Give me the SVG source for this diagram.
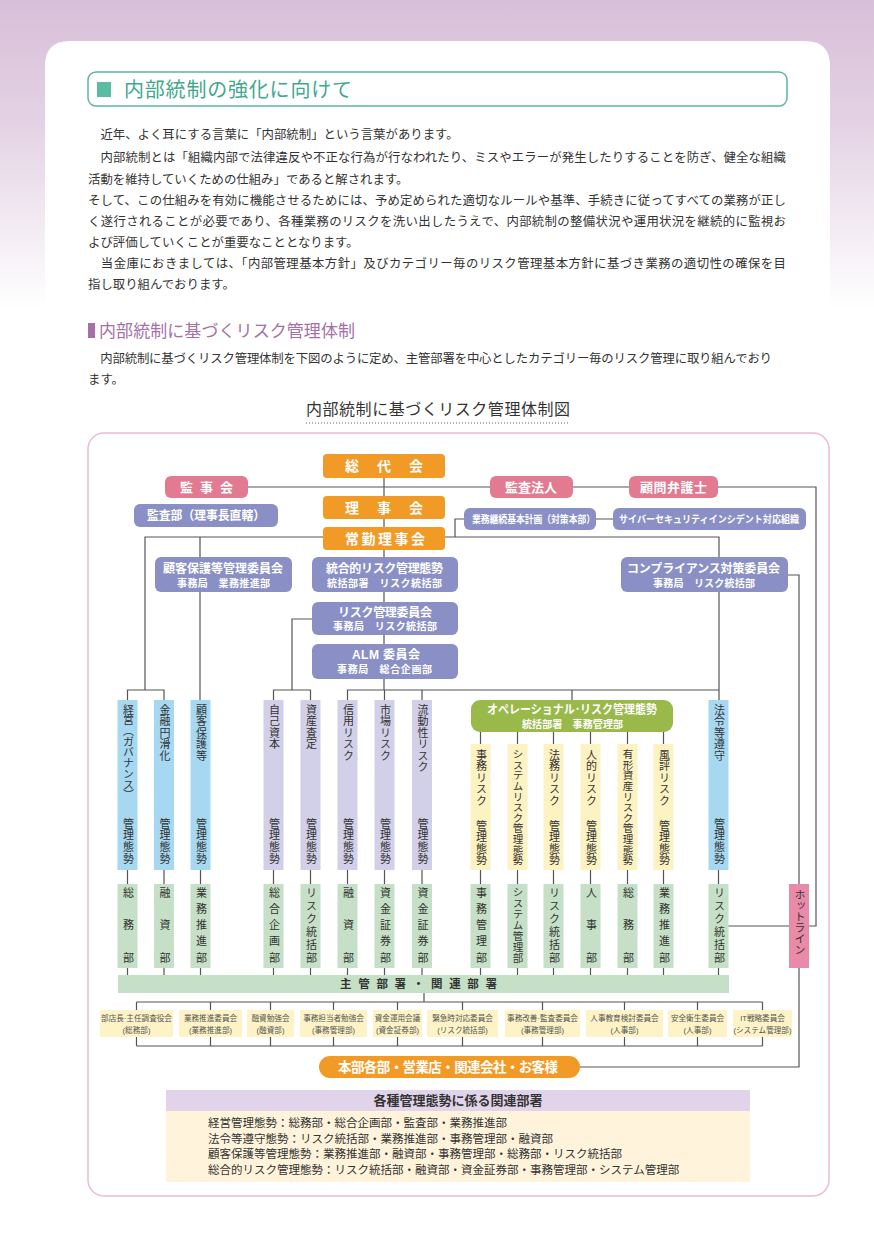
<svg xmlns="http://www.w3.org/2000/svg" width="874" height="1236" viewBox="0 0 874 1236">
<defs>
<linearGradient id="bg" x1="0" y1="0" x2="0" y2="1236" gradientUnits="userSpaceOnUse">
<stop offset="0" stop-color="#d8bfd9"/>
<stop offset="0.1" stop-color="#e4d2e4"/>
<stop offset="0.25" stop-color="#ffffff"/>
</linearGradient>
<style>
text{font-family:"Liberation Sans","Noto Sans CJK JP",sans-serif}
.body{font-size:12.4px;fill:#333}
.w{fill:#fff;font-weight:bold}
.dk{fill:#333}
.vt{writing-mode:vertical-rl;font-size:11px;fill:#333}
.ln{fill:none;stroke:#555;stroke-width:1.2}
.or{fill:#f29a26}
.pk{fill:#e27a91}
.bv{fill:#8a90c5}
.lb{fill:#a6d8f2}
.lv{fill:#d2cfe8}
.ye{fill:#fdf2c2}
.gr{fill:#c5e0c6}
.cm{fill:#fdf3c6}
.ct{font-size:7.6px;fill:#555}
</style>
</defs>
<rect x="0" y="0" width="874" height="1236" fill="url(#bg)"/>
<path d="M45,66 Q45,41 70,41 H805 Q830,41 830,66 V1236 H45 Z" fill="#fff"/>

<g id="header">
<rect x="88" y="72" width="699" height="34" rx="8" fill="#fff" stroke="#5bb89f" stroke-width="1.5"/>
<rect x="97" y="82" width="14" height="15" fill="#5bbba3"/>
<text x="124" y="97" style="font-size:20px;fill:#3fa88e" textLength="228">内部統制の強化に向けて</text>
</g>

<g id="intro">
<text class="body" x="88" y="139">　近年、よく耳にする言葉に「内部統制」という言葉があります。</text>
<text class="body" x="88" y="162" textLength="698">　内部統制とは「組織内部で法律違反や不正な行為が行なわれたり、ミスやエラーが発生したりすることを防ぎ、健全な組織</text>
<text class="body" x="88" y="184">活動を維持していくための仕組み」であると解されます。</text>
<text class="body" x="88" y="205" textLength="698">そして、この仕組みを有効に機能させるためには、予め定められた適切なルールや基準、手続きに従ってすべての業務が正し</text>
<text class="body" x="88" y="226" textLength="698">く遂行されることが必要であり、各種業務のリスクを洗い出したうえで、内部統制の整備状況や運用状況を継続的に監視お</text>
<text class="body" x="88" y="247">よび評価していくことが重要なこととなります。</text>
<text class="body" x="88" y="268" textLength="698">　当金庫におきましては、「内部管理基本方針」及びカテゴリー毎のリスク管理基本方針に基づき業務の適切性の確保を目</text>
<text class="body" x="88" y="289">指し取り組んでおります。</text>
</g>

<g id="section2">
<rect x="88" y="323" width="7" height="15" fill="#a56fa8"/>
<text x="99" y="337" style="font-size:17px;fill:#a56fa8" textLength="256">内部統制に基づくリスク管理体制</text>
<text class="body" x="88" y="363" textLength="684">　内部統制に基づくリスク管理体制を下図のように定め、主管部署を中心としたカテゴリー毎のリスク管理に取り組んでおり</text>
<text class="body" x="88" y="384">ます。</text>
<text x="306" y="415" style="font-size:16px;fill:#333" textLength="264">内部統制に基づくリスク管理体制図</text>
<line x1="306" y1="423" x2="570" y2="423" stroke="#666" stroke-width="1.2" stroke-dasharray="1,2"/>
</g>

<rect id="frame" x="88" y="433" width="741" height="763" rx="16" fill="none" stroke="#ecbccb" stroke-width="1.5"/>

<g id="connectors" class="ln">
<path d="M248,487 H490 M573,487 H629 M718,487 H816 V926 H809"/>
<path d="M384,478 V496 M384,519 V527 M384,550 V557 M384,592 V602 M384,635 V644 M384,679 V690"/>
<path d="M323,537 H145 V690 M200,537 V557 M127.5,700 V690 H164 V700"/>
<path d="M200,592 V700"/>
<path d="M445,537 H719 V557 M455,537 V519 H464 M596,519 H613"/>
<path d="M719,592 V700 M788,575 H799 V884 M799,968 V1067 H580"/>
<path d="M312,619 H292 V690 M273.5,700 V690 H310.5 V700"/>
<path d="M347.5,700 V690 H719 M384.5,690 V700 M422,690 V700 M572,690 V700"/>
<path d="M480.5,732 V744 M517.5,732 V744 M553.5,732 V744 M590.5,732 V744 M627.5,732 V744 M663.5,732 V744"/>
<path d="M127.5,870 V884 M164,870 V884 M200.5,870 V884 M273.5,870 V884 M310.5,870 V884 M347.5,870 V884 M384.5,870 V884 M422,870 V884 M480.5,870 V884 M517.5,870 V884 M553.5,870 V884 M590.5,870 V884 M627.5,870 V884 M663.5,870 V884 M718.5,870 V884"/>
<path d="M127.5,968 V975 M164,968 V975 M200.5,968 V975 M273.5,968 V975 M310.5,968 V975 M347.5,968 V975 M384.5,968 V975 M422,968 V975 M480.5,968 V975 M517.5,968 V975 M553.5,968 V975 M590.5,968 V975 M627.5,968 V975 M663.5,968 V975 M718.5,968 V975"/>
<path d="M728,926 H789"/>
<path d="M424,993 V1002 M136.5,1002 H762.5 M136.5,1046 H762.5"/>
<path d="M136.5,1002 V1010 M210.5,1002 V1010 M270.5,1002 V1010 M333.5,1002 V1010 M397.5,1002 V1010 M462.5,1002 V1010 M542.5,1002 V1010 M624.5,1002 V1010 M697.5,1002 V1010 M762.5,1002 V1010"/>
<path d="M136.5,1037 V1046 M210.5,1037 V1046 M270.5,1037 V1046 M333.5,1037 V1046 M397.5,1037 V1046 M462.5,1037 V1046 M542.5,1037 V1046 M624.5,1037 V1046 M697.5,1037 V1046 M762.5,1037 V1046"/>
</g>

<g id="sodaikai"><rect class="or" x="323" y="454" width="122" height="24" rx="4"/><text class="w" x="345" y="471" style="font-size:14px;letter-spacing:18px">総代会</text></g>
<g id="kanjikai"><rect class="pk" x="165" y="476" width="83" height="22" rx="6"/><text class="w" x="180" y="491.5" style="font-size:13px;letter-spacing:7px">監事会</text></g>
<g id="kansahojin"><rect class="pk" x="490" y="476" width="83" height="22" rx="6"/><text class="w" x="505" y="491.5" style="font-size:13px" textLength="52">監査法人</text></g>
<g id="komon"><rect class="pk" x="629" y="476" width="89" height="22" rx="6"/><text class="w" x="640" y="491.5" style="font-size:13px" textLength="67">顧問弁護士</text></g>
<g id="rijikai"><rect class="or" x="323" y="496" width="122" height="23" rx="4"/><text class="w" x="345" y="512.5" style="font-size:14px;letter-spacing:18px">理事会</text></g>
<g id="kansabu"><rect class="bv" x="134" y="504" width="144" height="23" rx="6"/><text class="w" x="147" y="520" style="font-size:12.5px" textLength="118" lengthAdjust="spacingAndGlyphs">監査部（理事長直轄）</text></g>
<g id="bcp"><rect class="bv" x="464" y="508" width="132" height="22" rx="6"/><text class="w" x="472" y="523" style="font-size:10.5px" textLength="123" lengthAdjust="spacingAndGlyphs">業務継続基本計画（対策本部）</text></g>
<g id="cyber"><rect class="bv" x="613" y="508" width="193" height="22" rx="6"/><text class="w" x="619" y="523" style="font-size:10px" textLength="180" lengthAdjust="spacingAndGlyphs">サイバーセキュリティインシデント対応組織</text></g>
<g id="jokin"><rect class="or" x="323" y="527" width="122" height="23" rx="4"/><text class="w" x="345" y="543.5" style="font-size:14px;letter-spacing:2.5px">常勤理事会</text></g>

<g id="kokyaku-iinkai"><rect class="bv" x="155" y="557" width="137" height="35" rx="6"/><text class="w" x="163" y="573.3" style="font-size:12px" textLength="120">顧客保護等管理委員会</text><text class="w" x="177" y="587.2" style="font-size:10px" textLength="93">事務局　業務推進部</text></g>
<g id="togoteki"><rect class="bv" x="312" y="557" width="146" height="35" rx="6"/><text class="w" x="326" y="573.3" style="font-size:12px" textLength="117">統合的リスク管理態勢</text><text class="w" x="327" y="587.2" style="font-size:10px" textLength="115">統括部署　リスク統括部</text></g>
<g id="compliance"><rect class="bv" x="621" y="557" width="167" height="35" rx="6"/><text class="w" x="627" y="573.3" style="font-size:12px" textLength="153">コンプライアンス対策委員会</text><text class="w" x="653" y="587.2" style="font-size:10px" textLength="102">事務局　リスク統括部</text></g>
<g id="risk-iinkai"><rect class="bv" x="312" y="602" width="146" height="33" rx="6"/><text class="w" x="338" y="616.8" style="font-size:12px" textLength="94">リスク管理委員会</text><text class="w" x="333" y="630.2" style="font-size:10px" textLength="104">事務局　リスク統括部</text></g>
<g id="alm"><rect class="bv" x="312" y="644" width="146" height="35" rx="6"/><text class="w" x="352" y="658.8" style="font-size:12px" textLength="68">ALM 委員会</text><text class="w" x="337" y="672.7" style="font-size:10px" textLength="95">事務局　総合企画部</text></g>
<g id="operational"><rect x="471" y="700" width="202" height="32" rx="9" fill="#9ab94b"/><text class="w" x="487" y="714.3" style="font-size:12px" textLength="170" lengthAdjust="spacingAndGlyphs">オペレーショナル･リスク管理態勢</text><text class="w" x="522" y="727.7" style="font-size:10px" textLength="101">統括部署　事務管理部</text></g>

<g id="col-keiei"><rect class="lb" x="117.5" y="700" width="20" height="170"/><text class="vt" x="127.5" y="704" style="letter-spacing:-0.3px">経営（ガバナンス）</text><text class="vt" x="127.5" y="818" style="letter-spacing:0.8px">管理態勢</text></g>
<g id="col-kinyu"><rect class="lb" x="154" y="700" width="20" height="170"/><text class="vt" x="164" y="704" style="letter-spacing:0.5px">金融円滑化</text><text class="vt" x="164" y="818" style="letter-spacing:0.8px">管理態勢</text></g>
<g id="col-kokyaku"><rect class="lb" x="190.5" y="700" width="20" height="170"/><text class="vt" x="200.5" y="704" style="letter-spacing:0.5px">顧客保護等</text><text class="vt" x="200.5" y="818" style="letter-spacing:0.8px">管理態勢</text></g>
<g id="col-jikoshihon"><rect class="lv" x="263.5" y="700" width="20" height="170"/><text class="vt" x="273.5" y="704" style="letter-spacing:0.5px">自己資本</text><text class="vt" x="273.5" y="818" style="letter-spacing:0.8px">管理態勢</text></g>
<g id="col-shisan"><rect class="lv" x="300.5" y="700" width="20" height="170"/><text class="vt" x="310.5" y="704" style="letter-spacing:0.5px">資産査定</text><text class="vt" x="310.5" y="818" style="letter-spacing:0.8px">管理態勢</text></g>
<g id="col-shinyo"><rect class="lv" x="337.5" y="700" width="20" height="170"/><text class="vt" x="347.5" y="704" style="letter-spacing:0.5px">信用リスク</text><text class="vt" x="347.5" y="818" style="letter-spacing:0.8px">管理態勢</text></g>
<g id="col-shijo"><rect class="lv" x="374.5" y="700" width="20" height="170"/><text class="vt" x="384.5" y="704" style="letter-spacing:0.5px">市場リスク</text><text class="vt" x="384.5" y="818" style="letter-spacing:0.8px">管理態勢</text></g>
<g id="col-ryudosei"><rect class="lv" x="412" y="700" width="20" height="170"/><text class="vt" x="422" y="704" style="letter-spacing:0.5px">流動性リスク</text><text class="vt" x="422" y="818" style="letter-spacing:0.8px">管理態勢</text></g>
<g id="col-jimu"><rect class="ye" x="470.5" y="744" width="20" height="126"/><text class="vt" x="480.5" y="749" style="letter-spacing:0.5px">事務リスク</text><text class="vt" x="480.5" y="820" style="letter-spacing:0.5px">管理態勢</text></g>
<g id="col-system"><rect class="ye" x="507.5" y="744" width="20" height="126"/><text class="vt" x="517.5" y="749" style="font-size:10.5px;letter-spacing:0.1px">システムリスク管理態勢</text></g>
<g id="col-homu"><rect class="ye" x="543.5" y="744" width="20" height="126"/><text class="vt" x="553.5" y="749" style="letter-spacing:0.5px">法務リスク</text><text class="vt" x="553.5" y="820" style="letter-spacing:0.5px">管理態勢</text></g>
<g id="col-jinteki"><rect class="ye" x="580.5" y="744" width="20" height="126"/><text class="vt" x="590.5" y="749" style="letter-spacing:0.5px">人的リスク</text><text class="vt" x="590.5" y="820" style="letter-spacing:0.5px">管理態勢</text></g>
<g id="col-yukei"><rect class="ye" x="617.5" y="744" width="20" height="126"/><text class="vt" x="627.5" y="749" style="font-size:10.5px;letter-spacing:0.1px">有形資産リスク管理態勢</text></g>
<g id="col-fuhyo"><rect class="ye" x="653.5" y="744" width="20" height="126"/><text class="vt" x="663.5" y="749" style="letter-spacing:0.5px">風評リスク</text><text class="vt" x="663.5" y="820" style="letter-spacing:0.5px">管理態勢</text></g>
<g id="col-horei"><rect class="lb" x="708.5" y="700" width="20" height="170"/><text class="vt" x="718.5" y="704" style="letter-spacing:0.5px">法令等遵守</text><text class="vt" x="718.5" y="818" style="letter-spacing:0.8px">管理態勢</text></g>

<g id="dept-1"><rect class="gr" x="117.5" y="884" width="20" height="84"/><text class="vt" x="127.5" y="887" style="letter-spacing:21.5px">総務部</text></g>
<g id="dept-2"><rect class="gr" x="154" y="884" width="20" height="84"/><text class="vt" x="164" y="887" style="letter-spacing:21.5px">融資部</text></g>
<g id="dept-3"><rect class="gr" x="190.5" y="884" width="20" height="84"/><text class="vt" x="200.5" y="887" style="letter-spacing:5.25px">業務推進部</text></g>
<g id="dept-4"><rect class="gr" x="263.5" y="884" width="20" height="84"/><text class="vt" x="273.5" y="887" style="letter-spacing:5.25px">総合企画部</text></g>
<g id="dept-5"><rect class="gr" x="300.5" y="884" width="20" height="84"/><text class="vt" x="310.5" y="887" style="letter-spacing:2px">リスク統括部</text></g>
<g id="dept-6"><rect class="gr" x="337.5" y="884" width="20" height="84"/><text class="vt" x="347.5" y="887" style="letter-spacing:21.5px">融資部</text></g>
<g id="dept-7"><rect class="gr" x="374.5" y="884" width="20" height="84"/><text class="vt" x="384.5" y="887" style="letter-spacing:5.25px">資金証券部</text></g>
<g id="dept-8"><rect class="gr" x="412" y="884" width="20" height="84"/><text class="vt" x="422" y="887" style="letter-spacing:5.25px">資金証券部</text></g>
<g id="dept-9"><rect class="gr" x="470.5" y="884" width="20" height="84"/><text class="vt" x="480.5" y="887" style="letter-spacing:5.25px">事務管理部</text></g>
<g id="dept-10"><rect class="gr" x="507.5" y="884" width="20" height="84"/><text class="vt" x="517.5" y="887" style="font-size:10.5px;letter-spacing:0.4px">システム管理部</text></g>
<g id="dept-11"><rect class="gr" x="543.5" y="884" width="20" height="84"/><text class="vt" x="553.5" y="887" style="letter-spacing:2px">リスク統括部</text></g>
<g id="dept-12"><rect class="gr" x="580.5" y="884" width="20" height="84"/><text class="vt" x="590.5" y="887" style="letter-spacing:21.5px">人事部</text></g>
<g id="dept-13"><rect class="gr" x="617.5" y="884" width="20" height="84"/><text class="vt" x="627.5" y="887" style="letter-spacing:21.5px">総務部</text></g>
<g id="dept-14"><rect class="gr" x="653.5" y="884" width="20" height="84"/><text class="vt" x="663.5" y="887" style="letter-spacing:5.25px">業務推進部</text></g>
<g id="dept-15"><rect class="gr" x="708.5" y="884" width="20" height="84"/><text class="vt" x="718.5" y="887" style="letter-spacing:2px">リスク統括部</text></g>

<g id="hotline"><rect x="789" y="884" width="20" height="84" fill="#e98aa8"/><text class="vt" x="799" y="889">ホットライン</text></g>

<g id="shukan-bar"><rect class="gr" x="118" y="975" width="611" height="18"/><text class="dk" x="340" y="988" style="font-size:11.5px;font-weight:bold" textLength="157" lengthAdjust="spacing">主管部署・関連部署</text></g>

<g id="committees" text-anchor="middle">
<g id="cm-1"><rect class="cm" x="100" y="1010" width="73" height="27"/><text class="ct" x="136.5" y="1021">部店長·主任調査役会</text><text class="ct" x="136.5" y="1033">(総務部)</text></g>
<g id="cm-2"><rect class="cm" x="179" y="1010" width="63" height="27"/><text class="ct" x="210.5" y="1021">業務推進委員会</text><text class="ct" x="210.5" y="1033">(業務推進部)</text></g>
<g id="cm-3"><rect class="cm" x="247" y="1010" width="47" height="27"/><text class="ct" x="270.5" y="1021">融資勉強会</text><text class="ct" x="270.5" y="1033">(融資部)</text></g>
<g id="cm-4"><rect class="cm" x="300" y="1010" width="67" height="27"/><text class="ct" x="333.5" y="1021">事務担当者勉強会</text><text class="ct" x="333.5" y="1033">(事務管理部)</text></g>
<g id="cm-5"><rect class="cm" x="373" y="1010" width="49" height="27"/><text class="ct" x="397.5" y="1021">資金運用会議</text><text class="ct" x="397.5" y="1033">(資金証券部)</text></g>
<g id="cm-6"><rect class="cm" x="427" y="1010" width="71" height="27"/><text class="ct" x="462.5" y="1021">緊急時対応委員会</text><text class="ct" x="462.5" y="1033">(リスク統括部)</text></g>
<g id="cm-7"><rect class="cm" x="505" y="1010" width="75" height="27"/><text class="ct" x="542.5" y="1021">事務改善·監査委員会</text><text class="ct" x="542.5" y="1033">(事務管理部)</text></g>
<g id="cm-8"><rect class="cm" x="586" y="1010" width="77" height="27"/><text class="ct" x="624.5" y="1021">人事教育検討委員会</text><text class="ct" x="624.5" y="1033">(人事部)</text></g>
<g id="cm-9"><rect class="cm" x="668" y="1010" width="59" height="27"/><text class="ct" x="697.5" y="1021">安全衛生委員会</text><text class="ct" x="697.5" y="1033">(人事部)</text></g>
<g id="cm-10"><rect class="cm" x="733" y="1010" width="59" height="27"/><text class="ct" x="762.5" y="1021">IT戦略委員会</text><text class="ct" x="762.5" y="1033">(システム管理部)</text></g>
</g>

<g id="honbu"><rect class="or" x="319" y="1056" width="261" height="22" rx="11"/><text class="w" x="338" y="1072" style="font-size:13.5px" textLength="220">本部各部・営業店・関連会社・お客様</text></g>

<g id="related-table">
<rect x="166" y="1090" width="584" height="21" fill="#e1d4ea"/>
<rect x="166" y="1111" width="584" height="71" fill="#fff3db"/>
<text x="458" y="1105" text-anchor="middle" style="font-size:13px;font-weight:bold;fill:#333">各種管理態勢に係る関連部署</text>
<text x="208" y="1127" style="font-size:11.5px;fill:#333">経営管理態勢：総務部・総合企画部・監査部・業務推進部</text>
<text x="208" y="1143" style="font-size:11.5px;fill:#333">法令等遵守態勢：リスク統括部・業務推進部・事務管理部・融資部</text>
<text x="208" y="1158" style="font-size:11.5px;fill:#333">顧客保護等管理態勢：業務推進部・融資部・事務管理部・総務部・リスク統括部</text>
<text x="208" y="1174" style="font-size:11.5px;fill:#333">総合的リスク管理態勢：リスク統括部・融資部・資金証券部・事務管理部・システム管理部</text>
</g>
</svg>
